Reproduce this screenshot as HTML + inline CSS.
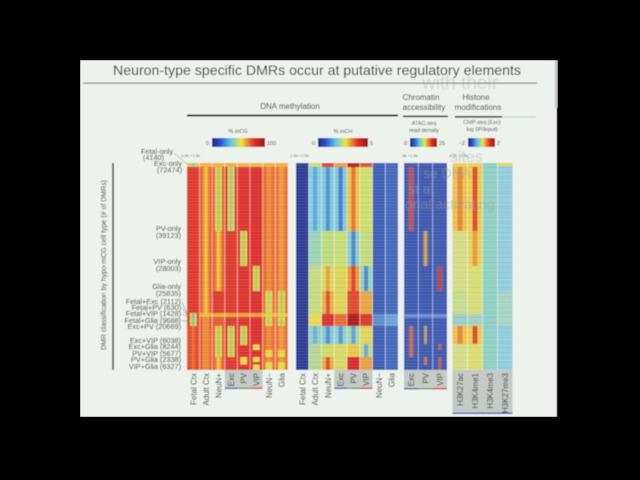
<!DOCTYPE html>
<html><head><meta charset="utf-8"><style>
html,body{margin:0;padding:0;background:#000;}
svg{display:block;}
text{font-family:"Liberation Sans",Arial,sans-serif;}
</style></head><body>
<svg width="640" height="480" viewBox="0 0 640 480" xmlns="http://www.w3.org/2000/svg">
<defs>
<linearGradient id="jet" x1="0" x2="1" y1="0" y2="0">
<stop offset="0" stop-color="#1c2a8a"/><stop offset="0.15" stop-color="#2a4fc8"/><stop offset="0.35" stop-color="#5cc6e8"/><stop offset="0.55" stop-color="#e8e840"/><stop offset="0.8" stop-color="#e22a26"/><stop offset="1" stop-color="#9a1616"/>
</linearGradient>
<pattern id="st" width="6" height="3" patternUnits="userSpaceOnUse"><rect x="0" y="0" width="6" height="1" fill="#fff" opacity="0.13"/></pattern>
<pattern id="st2" width="6" height="5" patternUnits="userSpaceOnUse"><rect x="0" y="2" width="6" height="1" fill="#000" opacity="0.06"/></pattern>
<filter id="soft" x="0" y="0" width="1" height="1"><feGaussianBlur stdDeviation="0.45"/></filter>
</defs>
<rect width="640" height="480" fill="#000"/>
<g filter="url(#soft)">
<rect x="80" y="60" width="477" height="357" fill="#edf2ec"/>
<rect x="555" y="60" width="3" height="48" fill="#bfc4bf"/>

<!-- title -->
<text x="113" y="75" font-size="14" fill="#333" textLength="408" lengthAdjust="spacingAndGlyphs">Neuron-type specific DMRs occur at putative regulatory elements</text>
<text x="422" y="89" font-size="19" fill="#c9cec9" opacity="0.7">with their</text>
<rect x="83" y="82.5" width="454" height="1.3" fill="#8a8e8a"/>

<!-- headers -->
<text x="290" y="109" font-size="8" fill="#333" text-anchor="middle">DNA methylation</text>
<rect x="187" y="114.5" width="211" height="2" fill="#222"/>
<text x="421" y="100" font-size="8" fill="#333" text-anchor="middle">Chromatin</text>
<text x="424" y="110" font-size="8" fill="#333" text-anchor="middle">accessibility</text>
<rect x="403" y="115.5" width="45" height="1.6" fill="#222"/>
<text x="476" y="100" font-size="8" fill="#333" text-anchor="middle">Histone</text>
<text x="478" y="110" font-size="8" fill="#333" text-anchor="middle">modifications</text>
<rect x="455" y="116" width="47" height="1.6" fill="#222"/>
<rect x="502" y="116.5" width="34" height="1" fill="#b8d8c0"/>

<!-- colorbars -->
<text x="238" y="133" font-size="5.5" fill="#444" text-anchor="middle">% mCG</text>
<rect x="212" y="138" width="53" height="9" fill="url(#jet)"/>
<text x="209" y="145" font-size="5.5" fill="#444" text-anchor="end">0</text>
<text x="267" y="145" font-size="5.5" fill="#444">100</text>
<text x="343" y="133" font-size="5.5" fill="#444" text-anchor="middle">% mCH</text>
<rect x="318" y="138" width="50" height="9" fill="url(#jet)"/>
<text x="315" y="145" font-size="5.5" fill="#444" text-anchor="end">0</text>
<text x="370" y="145" font-size="5.5" fill="#444">5</text>
<text x="424" y="125" font-size="5.5" fill="#444" text-anchor="middle">ATAC-seq</text>
<text x="424" y="132" font-size="5.5" fill="#444" text-anchor="middle">read density</text>
<rect x="410" y="138" width="27" height="9" fill="url(#jet)"/>
<text x="407" y="145" font-size="5.5" fill="#444" text-anchor="end">0</text>
<text x="439" y="145" font-size="5.5" fill="#444">25</text>
<text x="482" y="124" font-size="5.5" fill="#444" text-anchor="middle">ChIP-seq (Exc)</text>
<text x="482" y="131" font-size="5.5" fill="#444" text-anchor="middle">log (IP/input)</text>
<rect x="468" y="138" width="27" height="9" fill="url(#jet)"/>
<text x="465" y="145" font-size="5.5" fill="#444" text-anchor="end">−2</text>
<text x="497" y="145" font-size="5.5" fill="#444">2</text>

<text x="180" y="157" font-size="4" fill="#666">-1.5k +1.5k</text>
<text x="289" y="157" font-size="4" fill="#666">-1.5k +1.5k</text>
<text x="401" y="157" font-size="4" fill="#666">-3k +1.5k</text>
<text x="448" y="157" font-size="4" fill="#666">-1.2k +1.5k</text>
<text x="450" y="162" font-size="16" fill="#c3c8c3" opacity="0.7">sites</text>

<!-- ===== mCG block ===== -->
<g>
<rect x="187" y="163" width="12.6" height="207" fill="#e2382b"/>
<rect x="187" y="326" width="12.6" height="44" fill="#e6482c"/>
<rect x="187" y="163" width="12.6" height="4" fill="#e8c040"/>
<rect x="191.8" y="163" width="3" height="4" fill="#7cc9a8"/>
<rect x="189.8" y="313" width="7" height="13" fill="#f0d03a"/>
<rect x="191.8" y="313" width="3" height="13" fill="#7cc9a8"/>
<rect x="191.8" y="326" width="3" height="44" fill="#ee8a38" opacity="0.6"/>
<rect x="199.6" y="163" width="12.6" height="207" fill="#ea5a2e"/>
<rect x="202.4" y="167" width="7" height="203" fill="#ee8a34"/>
<rect x="204.4" y="167" width="3" height="147" fill="#f0c83a"/>
<rect x="212.2" y="163" width="12.6" height="207" fill="#e85a2e"/>
<rect x="215" y="167" width="7" height="64" fill="#f0d03a"/>
<rect x="217" y="167" width="3" height="64" fill="#9ed277"/>
<rect x="215" y="231" width="7" height="60" fill="#ee8a34"/>
<rect x="217" y="231" width="3" height="60" fill="#f0c83a"/>
<rect x="212.2" y="291" width="12.6" height="23" fill="#e03a2a"/>
<rect x="215" y="326" width="7" height="31" fill="#f0d03a"/>
<rect x="217" y="326" width="3" height="31" fill="#9ed277"/>
<rect x="215" y="357" width="7" height="13" fill="#ee8a34"/>
<rect x="217" y="357" width="3" height="13" fill="#f0c83a"/>
<rect x="224.8" y="163" width="12.6" height="207" fill="#de3a2a"/>
<rect x="227.6" y="167" width="7" height="64" fill="#f0d03a"/>
<rect x="229.6" y="167" width="3" height="64" fill="#8ccfa0"/>
<rect x="227.6" y="326" width="7" height="31" fill="#f0d03a"/>
<rect x="229.6" y="326" width="3" height="31" fill="#9ed277"/>
<rect x="237.4" y="163" width="12.6" height="207" fill="#e0302a"/>
<rect x="240.2" y="231" width="7" height="35" fill="#f0d03a"/>
<rect x="242.2" y="231" width="3" height="35" fill="#9ed277"/>
<rect x="240.2" y="326" width="7" height="19" fill="#f0d03a"/>
<rect x="242.2" y="326" width="3" height="19" fill="#9ed277"/>
<rect x="240.2" y="357" width="7" height="7.5" fill="#f0d03a"/>
<rect x="242.2" y="357" width="3" height="7.5" fill="#d6e05a"/>
<rect x="250" y="163" width="12.6" height="207" fill="#de2e2a"/>
<rect x="252.8" y="266" width="7" height="25" fill="#f0d03a"/>
<rect x="254.8" y="266" width="3" height="25" fill="#9ed277"/>
<rect x="252.8" y="344.5" width="7" height="5.5" fill="#f0d03a"/>
<rect x="254.8" y="344.5" width="3" height="5.5" fill="#d6e05a"/>
<rect x="252.8" y="357" width="7" height="5" fill="#f0d03a"/>
<rect x="254.8" y="357" width="3" height="5" fill="#d6e05a"/>
<rect x="252.8" y="364.5" width="7" height="5.5" fill="#f0d03a"/>
<rect x="254.8" y="364.5" width="3" height="5.5" fill="#d6e05a"/>
<rect x="262.6" y="163" width="12.6" height="207" fill="#ea6a30"/>
<rect x="266.4" y="167" width="5" height="203" fill="#ee8c36"/>
<rect x="265.4" y="291" width="7" height="35" fill="#f0d03a"/>
<rect x="267.4" y="291" width="3" height="35" fill="#b0d870"/>
<rect x="265.4" y="350" width="7" height="7" fill="#f0d03a"/>
<rect x="267.4" y="350" width="3" height="7" fill="#d6e05a"/>
<rect x="265.4" y="362" width="7" height="8" fill="#f0d03a"/>
<rect x="267.4" y="362" width="3" height="8" fill="#d6e05a"/>
<rect x="275.2" y="163" width="12.6" height="207" fill="#ec7232"/>
<rect x="279" y="167" width="5" height="203" fill="#ef9a3a"/>
<rect x="278" y="291" width="7" height="35" fill="#f0d03a"/>
<rect x="280" y="291" width="3" height="35" fill="#9ed277"/>
<rect x="278" y="350" width="7" height="7" fill="#f0d03a"/>
<rect x="280" y="350" width="3" height="7" fill="#d6e05a"/>
<rect x="278" y="362" width="7" height="8" fill="#f0d03a"/>
<rect x="280" y="362" width="3" height="8" fill="#d6e05a"/>
<rect x="199.6" y="163" width="88.2" height="4" fill="#f0b040"/>
<rect x="199.6" y="313" width="88.2" height="4" fill="#f0d03a" opacity="0.7"/>
</g>

<!-- ===== mCH block ===== -->
<g>
<rect x="296" y="163" width="12.75" height="207" fill="#2b3a96"/>
<rect x="308.75" y="163" width="12.75" height="4" fill="#c8dc70"/>
<rect x="308.75" y="167" width="12.75" height="64" fill="#84cedc"/>
<rect x="313.1" y="167" width="4" height="64" fill="#5ea8dc"/>
<rect x="308.75" y="231" width="12.75" height="35" fill="#9cd4b4"/>
<rect x="308.75" y="266" width="12.75" height="48" fill="#c4dc80"/>
<rect x="308.75" y="314" width="12.75" height="12" fill="#e8d850"/>
<rect x="308.75" y="326" width="12.75" height="18" fill="#90d0c8"/>
<rect x="313.1" y="326" width="4" height="18" fill="#6ab0d8"/>
<rect x="308.75" y="344" width="12.75" height="26" fill="#b8d890"/>
<rect x="321.5" y="163" width="12.75" height="4" fill="#e0402a"/>
<rect x="321.5" y="167" width="12.75" height="64" fill="#7ccadc"/>
<rect x="325.9" y="167" width="4" height="64" fill="#4f8ed4"/>
<rect x="321.5" y="231" width="12.75" height="35" fill="#c0dc7c"/>
<rect x="321.5" y="266" width="12.75" height="25" fill="#dcd860"/>
<rect x="325.9" y="266" width="4" height="25" fill="#e8a040"/>
<rect x="321.5" y="291" width="12.75" height="23" fill="#e8b444"/>
<rect x="325.9" y="291" width="4" height="23" fill="#e0502c"/>
<rect x="321.5" y="314" width="12.75" height="12" fill="#d8302a"/>
<rect x="321.5" y="326" width="12.75" height="18" fill="#84cad8"/>
<rect x="325.9" y="326" width="4" height="18" fill="#5090d4"/>
<rect x="321.5" y="344" width="12.75" height="13" fill="#d0dc68"/>
<rect x="321.5" y="357" width="12.75" height="13" fill="#e8b040"/>
<rect x="325.9" y="357" width="4" height="13" fill="#e04a2c"/>
<rect x="334.25" y="163" width="12.75" height="4" fill="#ec9a38"/>
<rect x="334.25" y="167" width="12.75" height="64" fill="#7ccadc"/>
<rect x="338.6" y="167" width="4" height="64" fill="#4878c8"/>
<rect x="334.25" y="231" width="12.75" height="35" fill="#c8de74"/>
<rect x="334.25" y="266" width="12.75" height="48" fill="#dcd658"/>
<rect x="334.25" y="314" width="12.75" height="12" fill="#e86a30"/>
<rect x="334.25" y="326" width="12.75" height="18" fill="#8ccfd0"/>
<rect x="338.6" y="326" width="4" height="18" fill="#5a98d4"/>
<rect x="334.25" y="344" width="12.75" height="26" fill="#d8d860"/>
<rect x="347" y="163" width="12.75" height="4" fill="#b01c1c"/>
<rect x="347" y="167" width="12.75" height="64" fill="#ecc444"/>
<rect x="351.4" y="167" width="4" height="64" fill="#e8702e"/>
<rect x="347" y="231" width="12.75" height="35" fill="#8ccfcc"/>
<rect x="351.4" y="231" width="4" height="35" fill="#4e86cc"/>
<rect x="347" y="266" width="12.75" height="25" fill="#ec9a3a"/>
<rect x="351.4" y="266" width="4" height="25" fill="#e0402a"/>
<rect x="347" y="291" width="12.75" height="23" fill="#e04a2c"/>
<rect x="347" y="314" width="12.75" height="12" fill="#b0181c"/>
<rect x="347" y="326" width="12.75" height="18" fill="#a8d6a8"/>
<rect x="351.4" y="326" width="4" height="18" fill="#60a0d8"/>
<rect x="347" y="344" width="12.75" height="13" fill="#e8c848"/>
<rect x="347" y="357" width="12.75" height="13" fill="#d8282a"/>
<rect x="359.75" y="163" width="12.75" height="4" fill="#e04a2c"/>
<rect x="359.75" y="167" width="12.75" height="64" fill="#cfe06c"/>
<rect x="359.75" y="231" width="12.75" height="35" fill="#c8dc78"/>
<rect x="359.75" y="266" width="12.75" height="25" fill="#98d2b8"/>
<rect x="364.1" y="266" width="4" height="25" fill="#4f88d0"/>
<rect x="359.75" y="291" width="12.75" height="23" fill="#e8a840"/>
<rect x="359.75" y="314" width="12.75" height="12" fill="#d83a2a"/>
<rect x="359.75" y="326" width="12.75" height="18" fill="#e2d658"/>
<rect x="359.75" y="344" width="12.75" height="13" fill="#c0dc80"/>
<rect x="364.1" y="344" width="4" height="13" fill="#6aa8d8"/>
<rect x="359.75" y="357" width="12.75" height="13" fill="#e8a040"/>
<rect x="372.5" y="163" width="12.75" height="207" fill="#3d5db6"/>
<rect x="372.5" y="314" width="12.75" height="12" fill="#5a90d0"/>
<rect x="385.25" y="163" width="12.75" height="207" fill="#4566bc"/>
<rect x="385.25" y="314" width="12.75" height="12" fill="#6aa6d6"/>
</g>

<!-- ===== ATAC block ===== -->
<g>
<rect x="404" y="163" width="43" height="207" fill="#3c58b0"/>
<rect x="404" y="314" width="43" height="4" fill="#6a8ed0"/>
<rect x="408.2" y="167" width="6" height="64" fill="#9a6a8a" opacity="0.6"/>
<rect x="409.7" y="167" width="3" height="64" fill="#d84830"/>
<rect x="408.2" y="326" width="6" height="31" fill="#9a6a8a" opacity="0.5"/>
<rect x="409.7" y="326" width="3" height="31" fill="#d06a40"/>
<rect x="422.5" y="231" width="6" height="35" fill="#9a8a7a" opacity="0.5"/>
<rect x="424" y="231" width="3" height="35" fill="#d8a040"/>
<rect x="424" y="326" width="3" height="18" fill="#c0a050"/>
<rect x="424" y="357" width="3" height="8" fill="#d07040"/>
<rect x="436.8" y="266" width="6" height="25" fill="#9a6a8a" opacity="0.6"/>
<rect x="438.3" y="266" width="3" height="25" fill="#d03a30"/>
<rect x="438.3" y="344" width="3" height="6" fill="#c86040"/>
<rect x="438.3" y="357" width="3" height="13" fill="#c86040"/>
</g>

<!-- ===== Histone block ===== -->
<g>
<rect x="452.5" y="163" width="15" height="4" fill="#e8d050"/>
<rect x="452.5" y="167" width="15" height="64" fill="#ecc24a"/>
<rect x="457.5" y="167" width="5" height="64" fill="#e8843a"/>
<rect x="452.5" y="231" width="15" height="60" fill="#d6de84"/>
<rect x="452.5" y="291" width="15" height="23" fill="#c8dc90"/>
<rect x="452.5" y="314" width="15" height="12" fill="#9ccfc4"/>
<rect x="452.5" y="326" width="15" height="18" fill="#ecc24a"/>
<rect x="457.5" y="326" width="5" height="18" fill="#e8843a"/>
<rect x="452.5" y="344" width="15" height="26" fill="#d4de88"/>
<rect x="467.5" y="163" width="15" height="4" fill="#e8d050"/>
<rect x="467.5" y="167" width="15" height="64" fill="#eccc4c"/>
<rect x="472.5" y="167" width="5" height="64" fill="#e04a2c"/>
<rect x="467.5" y="231" width="15" height="35" fill="#e6d65a"/>
<rect x="472.5" y="231" width="5" height="35" fill="#ec9a3c"/>
<rect x="467.5" y="266" width="15" height="48" fill="#d8de74"/>
<rect x="467.5" y="314" width="15" height="12" fill="#a4d2c0"/>
<rect x="467.5" y="326" width="15" height="18" fill="#eccc4c"/>
<rect x="472.5" y="326" width="5" height="18" fill="#e04a2c"/>
<rect x="467.5" y="344" width="15" height="26" fill="#dcde70"/>
<rect x="482.5" y="163" width="15" height="207" fill="#8ed0c4"/>
<rect x="497.5" y="163" width="15" height="207" fill="#94cedc"/>
<rect x="497.5" y="163" width="15" height="3" fill="#e0d848"/>
<rect x="497.5" y="291" width="15" height="35" fill="#a8d4c4"/>
</g>

<!-- texture overlays -->
<g>
<rect x="187" y="163" width="100.8" height="207" fill="url(#st)"/>
<rect x="187" y="163" width="100.8" height="207" fill="url(#st2)"/>
<rect x="296" y="163" width="102" height="207" fill="url(#st)"/>
<rect x="296" y="163" width="102" height="207" fill="url(#st2)"/>
<rect x="404" y="163" width="43" height="207" fill="url(#st)"/>
<rect x="404" y="163" width="43" height="207" fill="url(#st2)"/>
<rect x="452.5" y="163" width="60" height="207" fill="url(#st)"/>
<rect x="452.5" y="163" width="60" height="207" fill="url(#st2)"/>
</g>

<!-- separators -->
<g stroke="#ffffff" stroke-width="0.8" opacity="0.6">
<line x1="199.6" y1="163" x2="199.6" y2="370"/><line x1="212.2" y1="163" x2="212.2" y2="370"/><line x1="224.8" y1="163" x2="224.8" y2="370"/><line x1="237.4" y1="163" x2="237.4" y2="370"/><line x1="250" y1="163" x2="250" y2="370"/><line x1="262.6" y1="163" x2="262.6" y2="370"/><line x1="275.2" y1="163" x2="275.2" y2="370"/>
<line x1="308.75" y1="163" x2="308.75" y2="370"/><line x1="321.5" y1="163" x2="321.5" y2="370"/><line x1="334.25" y1="163" x2="334.25" y2="370"/><line x1="347" y1="163" x2="347" y2="370"/><line x1="359.75" y1="163" x2="359.75" y2="370"/><line x1="372.5" y1="163" x2="372.5" y2="370"/><line x1="385.25" y1="163" x2="385.25" y2="370"/>
<line x1="418.33" y1="163" x2="418.33" y2="370"/><line x1="432.67" y1="163" x2="432.67" y2="370"/>
<line x1="467.5" y1="163" x2="467.5" y2="370"/><line x1="482.5" y1="163" x2="482.5" y2="370"/><line x1="497.5" y1="163" x2="497.5" y2="370"/>
</g>

<!-- ghost text -->
<g font-size="14" fill="#9aa2a4" opacity="0.45">
<text x="423" y="178">se DNA</text>
<text x="408" y="194">st      at</text>
<text x="405" y="209">onal activating</text>
</g>

<!-- left axis labels -->
<rect x="112.3" y="163" width="1.4" height="207" fill="#222"/>
<text transform="translate(106,265) rotate(-90)" font-size="7" fill="#333" text-anchor="middle">DMR classification by hypo-mCG cell type (# of DMRs)</text>
<g font-size="7.3" fill="#333" text-anchor="end">
<text x="173" y="154">Fetal-only</text>
<text x="164" y="160">(4140)</text>
<text x="182" y="166">Exc-only</text>
<text x="182" y="172.5">(72474)</text>
<text x="181" y="231">PV-only</text>
<text x="181" y="238">(39123)</text>
<text x="181" y="264">VIP-only</text>
<text x="181" y="271">(28003)</text>
<text x="181" y="289">Glia-only</text>
<text x="181" y="296">(25835)</text>
<text x="181" y="304">Fetal+Exc (2112)</text>
<text x="181" y="310">Fetal+PV (630)</text>
<text x="181" y="316">Fetal+VIP (1428)</text>
<text x="181" y="323">Fetal+Glia (9688)</text>
<text x="181" y="329">Exc+PV (20669)</text>
<text x="181" y="343">Exc+VIP (6038)</text>
<text x="181" y="349">Exc+Glia (8244)</text>
<text x="181" y="356">PV+VIP (5677)</text>
<text x="181" y="362">PV+Glia (2338)</text>
<text x="181" y="369">VIP+Glia (6327)</text>
</g>
<g stroke="#777" stroke-width="0.5" fill="none">
<line x1="174" y1="153" x2="187" y2="164"/>
<line x1="182" y1="302" x2="187" y2="314"/>
<line x1="182" y1="308" x2="187" y2="315.5"/>
<line x1="182" y1="314" x2="187" y2="317"/>
<line x1="182" y1="321" x2="187" y2="321"/>
</g>

<!-- bottom label boxes -->
<rect x="224.8" y="370" width="37.8" height="18" fill="#c6cac6"/>
<rect x="224.8" y="387.5" width="12.6" height="1.5" fill="#4a64c0"/>
<rect x="237.4" y="387.5" width="12.6" height="1.5" fill="#60a878"/>
<rect x="250" y="387.5" width="12.6" height="1.5" fill="#e0304a"/>
<rect x="334.25" y="370" width="38.25" height="18" fill="#c6cac6"/>
<rect x="334.25" y="387.5" width="12.75" height="1.5" fill="#4a64c0"/>
<rect x="347" y="387.5" width="12.75" height="1.5" fill="#60a878"/>
<rect x="359.75" y="387.5" width="12.75" height="1.5" fill="#e0304a"/>
<rect x="404" y="370" width="43" height="19" fill="#c6cac6"/>
<rect x="404" y="388" width="14.33" height="1.5" fill="#4a64c0"/>
<rect x="418.33" y="388" width="14.33" height="1.5" fill="#60a878"/>
<rect x="432.67" y="388" width="14.33" height="1.5" fill="#e0304a"/>
<rect x="452.5" y="370" width="60" height="43" fill="#c6cac6"/>
<rect x="452.5" y="412.5" width="60" height="1.5" fill="#4a64c0"/>

<g font-size="8" fill="#333" text-anchor="end">
<text transform="translate(196.3,373) rotate(-90)">Fetal Ctx</text>
<text transform="translate(208.9,373) rotate(-90)">Adult Ctx</text>
<text transform="translate(221.5,373) rotate(-90)">NeuN+</text>
<text transform="translate(234.1,373) rotate(-90)">Exc</text>
<text transform="translate(246.7,373) rotate(-90)">PV</text>
<text transform="translate(259.3,373) rotate(-90)">VIP</text>
<text transform="translate(271.9,373) rotate(-90)">NeuN−</text>
<text transform="translate(284.5,373) rotate(-90)">Glia</text>
<text transform="translate(305.4,373) rotate(-90)">Fetal Ctx</text>
<text transform="translate(318.1,373) rotate(-90)">Adult Ctx</text>
<text transform="translate(330.9,373) rotate(-90)">NeuN+</text>
<text transform="translate(343.6,373) rotate(-90)">Exc</text>
<text transform="translate(356.4,373) rotate(-90)">PV</text>
<text transform="translate(369.1,373) rotate(-90)">VIP</text>
<text transform="translate(381.9,373) rotate(-90)">NeuN−</text>
<text transform="translate(394.6,373) rotate(-90)">Glia</text>
<text transform="translate(414.2,373) rotate(-90)">Exc</text>
<text transform="translate(428.5,373) rotate(-90)">PV</text>
<text transform="translate(442.8,373) rotate(-90)">VIP</text>
<text transform="translate(463,373) rotate(-90)">H3K27ac</text>
<text transform="translate(478,373) rotate(-90)">H3K4me1</text>
<text transform="translate(493,373) rotate(-90)">H3K4me3</text>
<text transform="translate(508,373) rotate(-90)">H3K27me3</text>
</g>
</g>
</svg>
</body></html>
